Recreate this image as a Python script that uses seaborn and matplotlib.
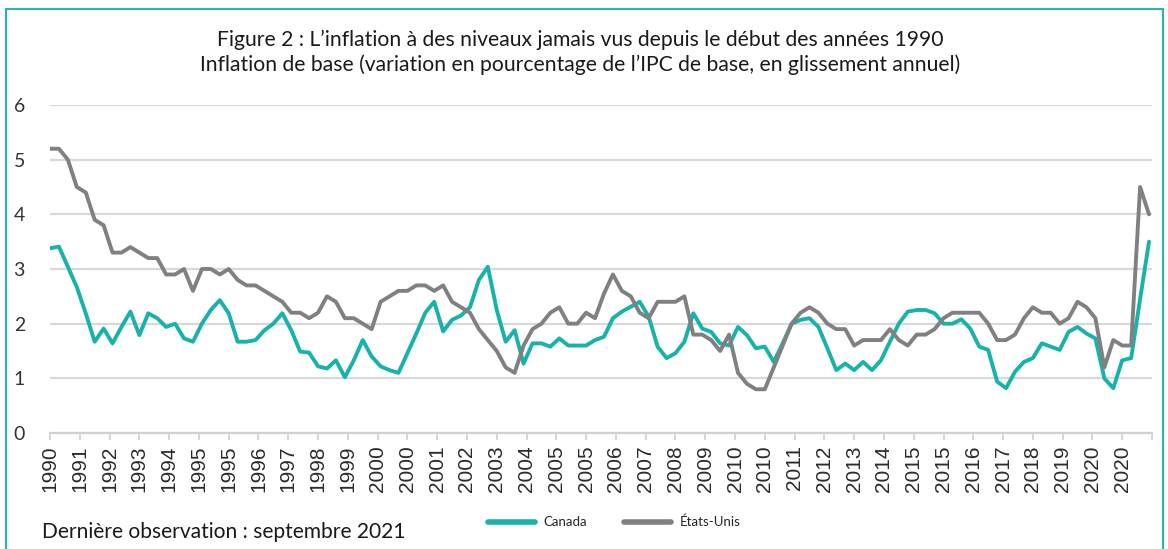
import numpy as np
import pandas as pd
import matplotlib
matplotlib.use("Agg")
import matplotlib.pyplot as plt
import seaborn as sns
from matplotlib.patches import Rectangle
from matplotlib.lines import Line2D

# ---- data (core inflation, y/y %, quarterly samples Nov 1990 -> Sep 2021) ----
canada = [3.38, 3.41, 3.04, 2.67, 2.19, 1.67, 1.91, 1.64, 1.94, 2.22, 1.79, 2.19, 2.1, 1.94, 2.0, 1.73,
          1.67, 2.0, 2.25, 2.43, 2.19, 1.67, 1.67, 1.7, 1.88, 2.0, 2.19, 1.88, 1.49, 1.47, 1.22, 1.18,
          1.33, 1.02, 1.33, 1.7, 1.4, 1.22, 1.15, 1.1, 1.46, 1.82, 2.2, 2.4, 1.86, 2.07, 2.15, 2.3,
          2.8, 3.04, 2.25, 1.67, 1.88, 1.27, 1.64, 1.64, 1.58, 1.73, 1.6, 1.6, 1.6, 1.7,
          1.76, 2.1, 2.22, 2.31, 2.4, 2.13, 1.58, 1.37, 1.46, 1.67, 2.19, 1.91, 1.85, 1.64, 1.6, 1.94,
          1.79, 1.55, 1.58, 1.3, 1.64, 2.0, 2.07, 2.1, 1.94, 1.55, 1.15, 1.27, 1.15, 1.3, 1.15,
          1.33, 1.67, 2.0, 2.22, 2.25, 2.25, 2.19, 2.0, 2.0, 2.08, 1.91, 1.58, 1.52, 0.94, 0.82, 1.12,
          1.3, 1.37, 1.64, 1.58, 1.52, 1.85, 1.94, 1.82, 1.73, 1.0, 0.82, 1.33, 1.37, 2.45, 3.5]
etats_unis = [5.2, 5.2, 5.0, 4.5, 4.4, 3.9, 3.8, 3.3, 3.3, 3.4, 3.3, 3.2, 3.2, 2.9, 2.9, 3.0,
              2.6, 3.0, 3.0, 2.9, 3.0, 2.8, 2.7, 2.7, 2.6, 2.5, 2.4, 2.2, 2.2, 2.1, 2.2, 2.5,
              2.4, 2.1, 2.1, 2.0, 1.9, 2.4, 2.5, 2.6, 2.6, 2.7, 2.7, 2.6, 2.7, 2.4, 2.3, 2.2,
              1.9, 1.7, 1.5, 1.2, 1.1, 1.6, 1.9, 2.0, 2.2, 2.3, 2.0, 2.0, 2.2, 2.1,
              2.55, 2.9, 2.6, 2.5, 2.2, 2.1, 2.4, 2.4, 2.4, 2.5, 1.8, 1.8, 1.7, 1.5, 1.8, 1.1,
              0.9, 0.8, 0.8, 1.2, 1.6, 2.0, 2.2, 2.3, 2.2, 2.0, 1.9, 1.9, 1.6, 1.7, 1.7,
              1.7, 1.9, 1.7, 1.6, 1.8, 1.8, 1.9, 2.1, 2.2, 2.2, 2.2, 2.2, 2.0, 1.7, 1.7, 1.8,
              2.1, 2.3, 2.2, 2.2, 2.0, 2.1, 2.4, 2.3, 2.1, 1.2, 1.7, 1.6, 1.6, 4.5, 4.0]
series_names = ["Canada", "États-Unis"]
tick_labels = ["1990", "1991", "1992", "1993", "1994", "1995", "1995", "1996", "1997", "1998",
               "1999", "2000", "2000", "2001", "2002", "2003", "2004", "2005", "2005", "2006",
               "2007", "2008", "2009", "2010", "2010", "2011", "2012", "2013", "2014", "2015",
               "2015", "2016", "2017", "2018", "2019", "2020", "2020"]
y_ticks = [0, 1, 2, 3, 4, 5, 6]
title_lines = ["Figure 2 : L’inflation à des niveaux jamais vus depuis le début des années 1990",
               "Inflation de base (variation en pourcentage de l’IPC de base, en glissement annuel)"]
note = "Dernière observation : septembre 2021"

n = len(canada)
months = np.arange(n) * 3  # months since first observation (quarterly sampling)
df = pd.DataFrame({
    "mois": np.concatenate([months, months]),
    "valeur": canada + etats_unis,
    "serie": [series_names[0]] * n + [series_names[1]] * n,
})

teal = "#17b3aa"
grey = "#808080"

sns.set_theme(style="white")
plt.rcParams["font.family"] = ["Lato", "DejaVu Sans"]

fig = plt.figure(figsize=(11.68, 5.49), dpi=100)
ax = fig.add_axes([50 / 1168, 1 - 433 / 549, (1152 - 50) / 1168, (433 - 105) / 549])

sns.lineplot(data=df, x="mois", y="valeur", hue="serie",
             palette={series_names[0]: teal, series_names[1]: grey},
             linewidth=2.8, ax=ax, legend=False)

ax.set_xlim(0, 370)
ax.set_ylim(0, 6)
ax.set_xlabel("")
ax.set_ylabel("")

xt = np.arange(len(tick_labels) + 1) * 10
ax.set_xticks(xt)
ax.set_xticklabels(tick_labels + [""], rotation=90, fontsize=15,
                   family=["Liberation Sans", "DejaVu Sans"], color="#2a2a2a")
ax.set_yticks(y_ticks)
ax.set_yticklabels([str(v) for v in y_ticks], fontsize=14, color="#333333")

ax.yaxis.grid(True, color="#d9d9d9", linewidth=1.6)
ax.xaxis.grid(False)
for s in ["top", "right", "left"]:
    ax.spines[s].set_visible(False)
ax.spines["bottom"].set_color("#d0d0d0")
ax.spines["bottom"].set_linewidth(1.6)
ax.tick_params(axis="x", which="major", bottom=True, length=5, width=1.2, color="#d0d0d0", pad=4)
ax.tick_params(axis="y", left=False, pad=12)
ax.set_axisbelow(True)

# title
fig.text(580 / 1168, 1 - 40 / 549, title_lines[0], ha="center", va="center", fontsize=15.2, color="#1a1a1a")
fig.text(580 / 1168, 1 - 65 / 549, title_lines[1], ha="center", va="center", fontsize=15.2, color="#1a1a1a")

# footnote
fig.text(42 / 1168, 1 - 532 / 549, note, ha="left", va="center", fontsize=15.1, color="#1a1a1a")

# legend
handles = [Line2D([0], [0], color=teal, linewidth=4), Line2D([0], [0], color=grey, linewidth=4)]
fig.legend(handles, series_names, loc="center", bbox_to_anchor=(614 / 1168, 1 - 522 / 549),
           ncol=2, frameon=False, fontsize=9.5, handlelength=3.6, columnspacing=2.8, handletextpad=0.6)

# outer frame
fig.patches.append(Rectangle((6 / 1168, -0.05), (1163 - 6) / 1168, 1 - 9 / 549 + 0.05,
                             transform=fig.transFigure, fill=False, edgecolor="#2bb5b0", linewidth=1.5))

fig.savefig("out.png", dpi=100)
